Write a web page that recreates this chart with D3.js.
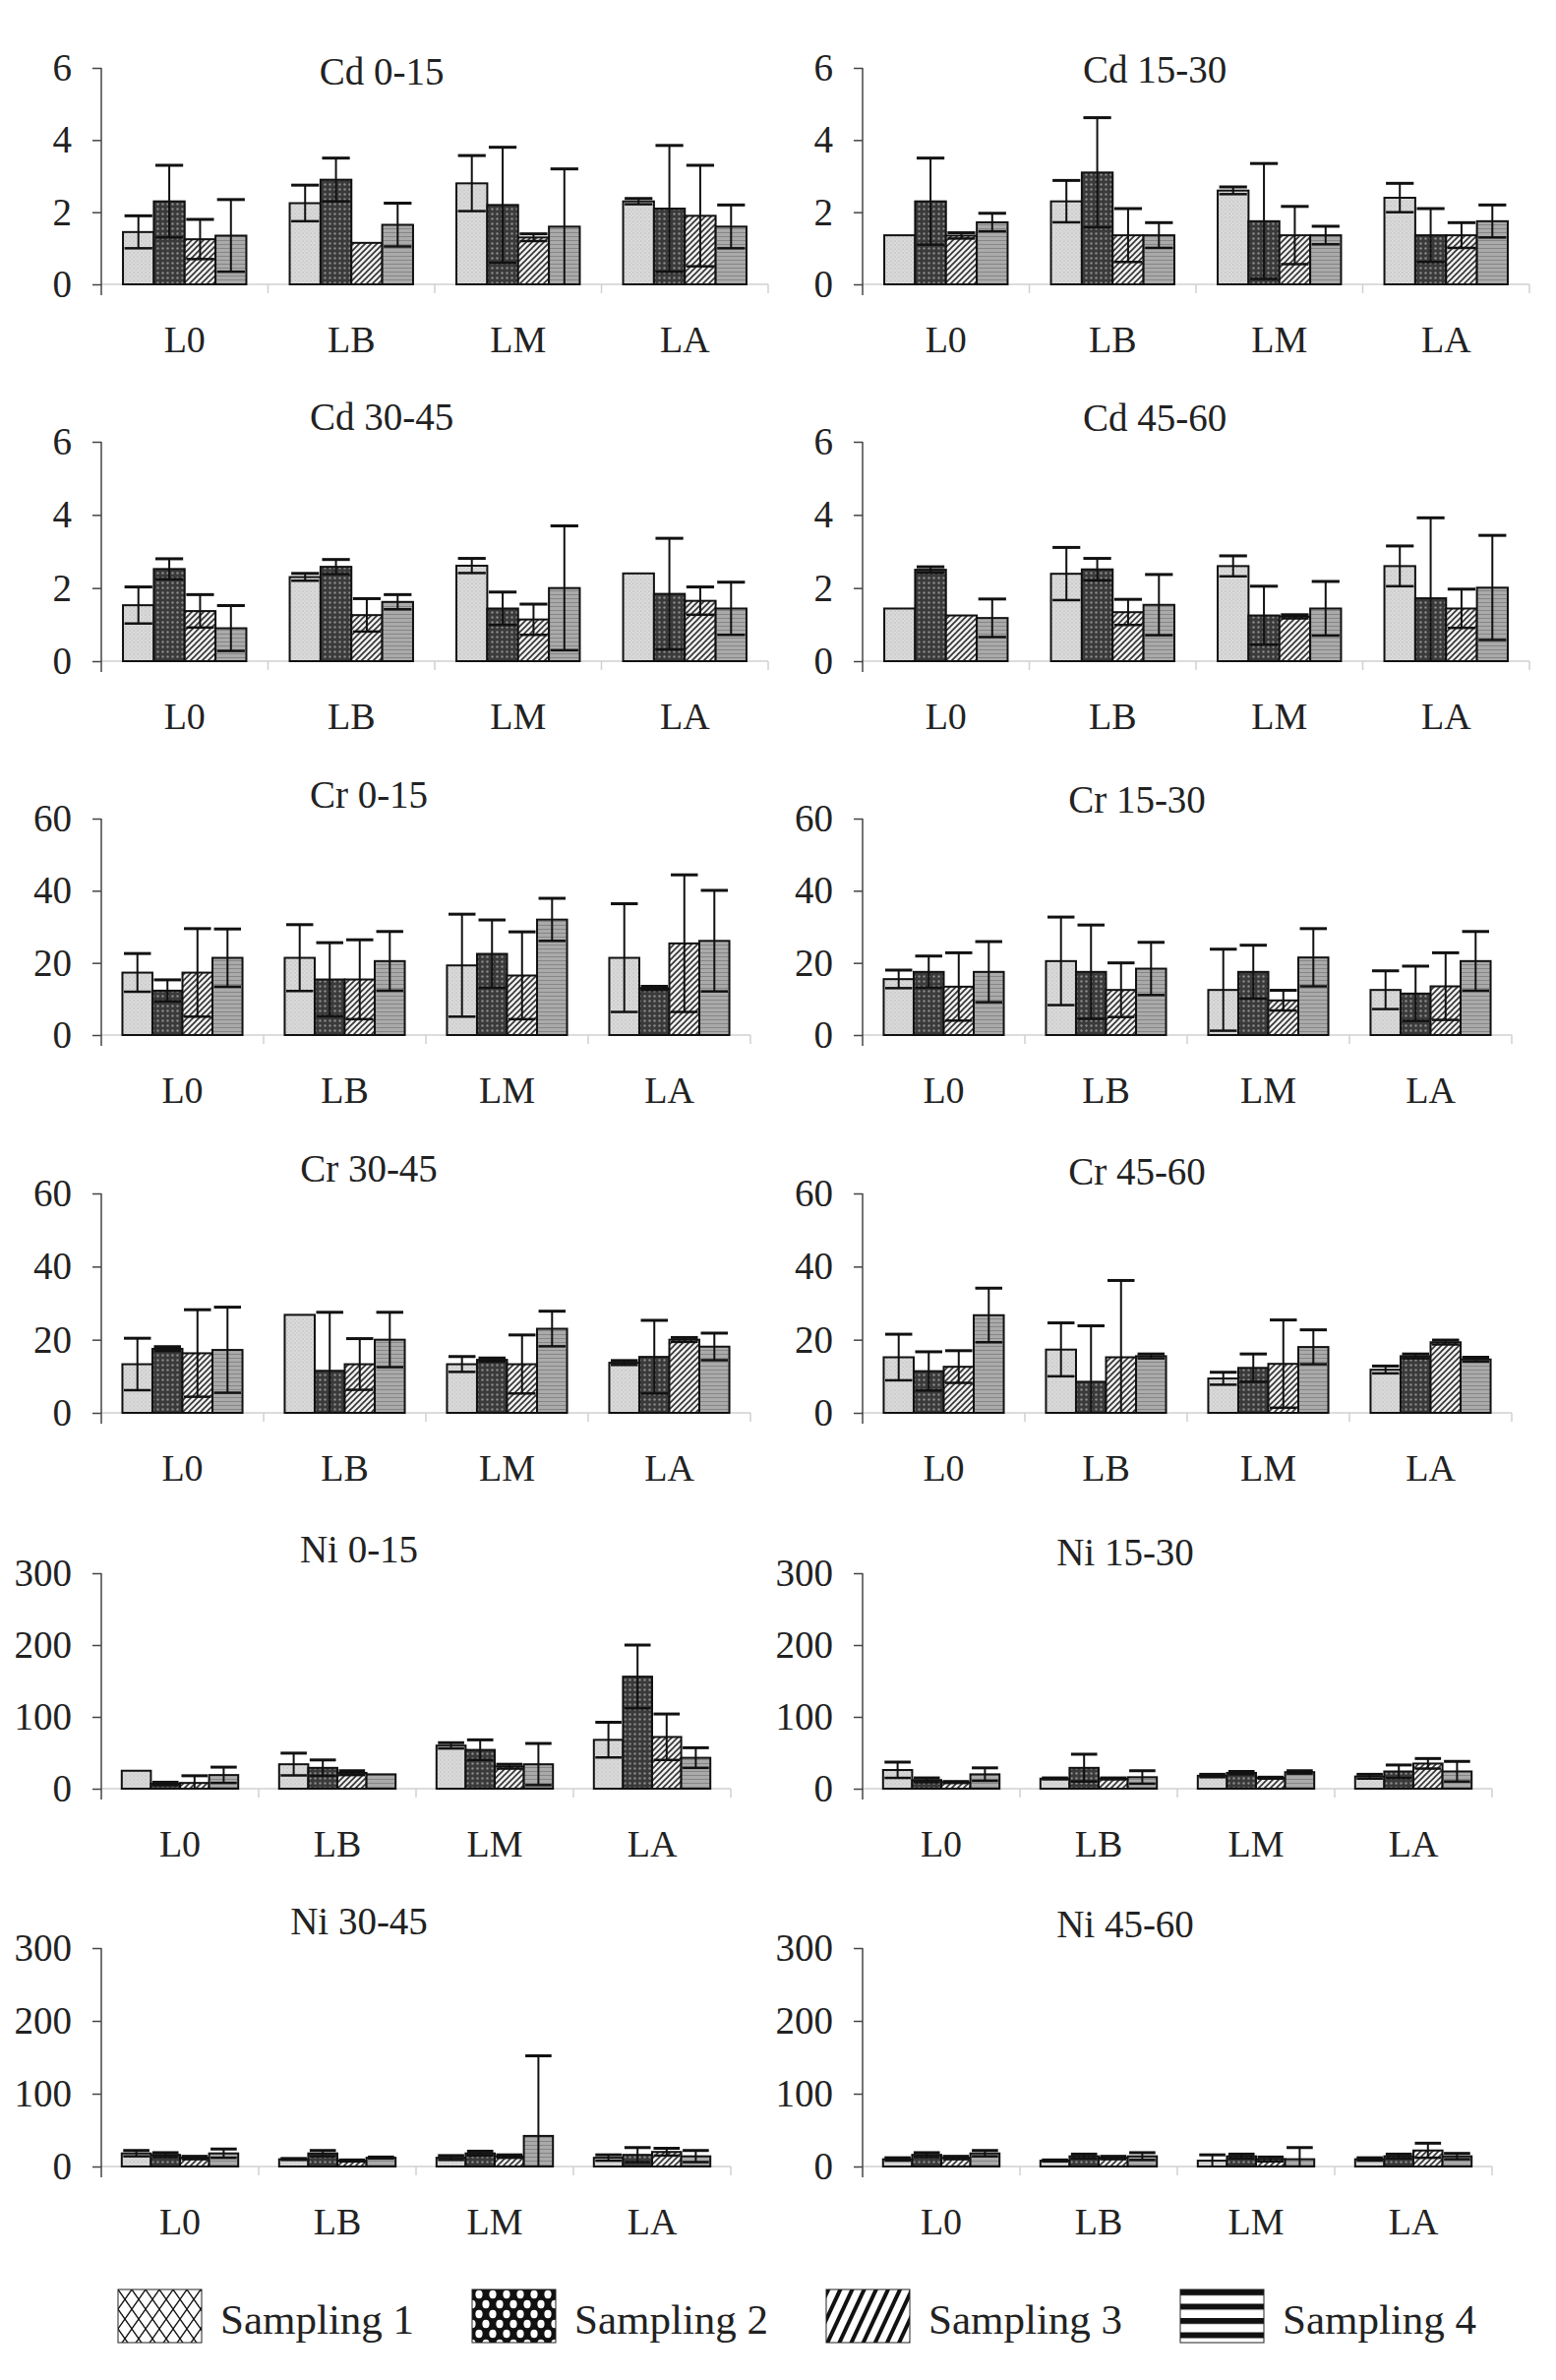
<!DOCTYPE html>
<html>
<head>
<meta charset="utf-8">
<script src="https://cdn.jsdelivr.net/npm/d3@7"></script>
<style>
  html, body { margin: 0; padding: 0; background: #fff; }
  svg { display: block; }
  text { font-family: "Liberation Serif", "DejaVu Serif", serif; fill: #222; }
</style>
</head>
<body>
<script>
// categorias e series
var sites = ["L0", "LB", "LM", "LA"];
var samplings = ["Sampling 1", "Sampling 2", "Sampling 3", "Sampling 4"];

var cdTicks = [0, 2, 4, 6];
var crTicks = [0, 20, 40, 60];
var niTicks = [0, 100, 200, 300];

// linhas = local (L0, LB, LM, LA), colunas = amostragem 1..4
var cd_0_15_mean = [[1.45, 2.3, 1.25, 1.35], [2.25, 2.9, 1.15, 1.65], [2.8, 2.2, 1.3, 1.6], [2.3, 2.1, 1.9, 1.6]];
var cd_0_15_sd = [[0.45, 1.0, 0.55, 1.0], [0.5, 0.6, 0, 0.6], [0.77, 1.6, 0.1, 1.6], [0.08, 1.75, 1.4, 0.6]];

var cd_15_30_mean = [[1.36, 2.3, 1.35, 1.72], [2.3, 3.1, 1.36, 1.36], [2.6, 1.75, 1.36, 1.36], [2.4, 1.36, 1.36, 1.75]];
var cd_15_30_sd = [[0, 1.2, 0.08, 0.25], [0.58, 1.52, 0.74, 0.35], [0.1, 1.6, 0.8, 0.25], [0.4, 0.74, 0.35, 0.45]];

var cd_30_45_mean = [[1.53, 2.52, 1.37, 0.9], [2.3, 2.58, 1.26, 1.62], [2.61, 1.44, 1.14, 2.0], [2.4, 1.84, 1.65, 1.44]];
var cd_30_45_sd = [[0.5, 0.28, 0.45, 0.62], [0.1, 0.2, 0.45, 0.2], [0.2, 0.45, 0.42, 1.7], [0, 1.52, 0.38, 0.72]];

var cd_45_60_mean = [[1.44, 2.5, 1.25, 1.18], [2.39, 2.51, 1.34, 1.54], [2.6, 1.25, 1.22, 1.44], [2.6, 1.72, 1.44, 2.01]];
var cd_45_60_sd = [[0, 0.08, 0, 0.52], [0.72, 0.3, 0.35, 0.83], [0.28, 0.8, 0.05, 0.74], [0.55, 2.2, 0.53, 1.43]];

var cr_0_15_mean = [[17.3, 12.3, 17.3, 21.4], [21.4, 15.4, 15.4, 20.5], [19.3, 22.5, 16.5, 32], [21.4, 13, 25.4, 26.1]];
var cr_0_15_sd = [[5.3, 3, 12.2, 8], [9.2, 10.2, 11, 8.2], [14.2, 9.4, 12.1, 5.9], [15, 0.5, 19, 14]];

var cr_15_30_mean = [[15.5, 17.5, 13.4, 17.5], [20.5, 17.5, 12.5, 18.4], [12.5, 17.5, 9.6, 21.5], [12.5, 11.5, 13.5, 20.5]];
var cr_15_30_sd = [[2.5, 4.4, 9.4, 8.4], [12.2, 13, 7.5, 7.3], [11.3, 7.4, 2.8, 8], [5.3, 7.6, 9.3, 8.2]];

var cr_30_45_mean = [[13.3, 17.5, 16.3, 17.2], [26.8, 11.5, 13.3, 20], [13.3, 14.5, 13.3, 23], [13.7, 15.3, 20, 18.1]];
var cr_30_45_sd = [[7.1, 0.6, 11.9, 11.7], [0, 16, 7, 7.5], [2.1, 0.5, 8, 4.8], [0.6, 10, 0.6, 3.7]];

var cr_45_60_mean = [[15.2, 11.4, 12.6, 26.7], [17.3, 8.5, 15.2, 15.5], [9.4, 12.3, 13.4, 18], [11.8, 15.5, 19.3, 14.6]];
var cr_45_60_sd = [[6.3, 5.3, 4.4, 7.4], [7.3, 15.3, 21, 0.6], [1.7, 3.8, 12, 4.7], [1.0, 0.6, 0.6, 0.6]];

var ni_0_15_mean = [[25, 7, 8, 19], [34, 29, 22, 20], [60, 54, 31, 34], [68, 156, 72, 43]];
var ni_0_15_sd = [[0, 2, 10, 11], [15.5, 11, 3, 0], [4, 14, 3, 29], [24.5, 44, 32, 14]];

var ni_15_30_mean = [[26, 12, 9, 20], [14, 29, 14, 16], [18, 22, 15, 23], [17, 24, 35, 24]];
var ni_15_30_sd = [[11, 3, 1, 9], [1, 19, 1, 9], [2, 2, 1, 2], [3, 9, 7, 14]];

var ni_30_45_mean = [[18, 16, 12, 18], [10, 18, 8, 12], [12, 18, 14, 42], [12, 16, 20, 14]];
var ni_30_45_sd = [[4, 3, 2, 6], [1, 4, 1, 1], [3, 3, 2, 110], [4, 10, 5, 8]];

var ni_45_60_mean = [[10, 16, 12, 18], [8, 14, 12, 14], [8, 14, 10, 10], [10, 14, 22, 14]];
var ni_45_60_sd = [[2, 3, 2, 4], [1, 3, 2, 5], [8, 3, 3, 16], [2, 3, 10, 4]];

var panels = [
	{ title: "Cd 0-15", el: "cd", mean: cd_0_15_mean, sd: cd_0_15_sd, ticks: cdTicks },
	{ title: "Cd 15-30", el: "cd", mean: cd_15_30_mean, sd: cd_15_30_sd, ticks: cdTicks },
	{ title: "Cd 30-45", el: "cd", mean: cd_30_45_mean, sd: cd_30_45_sd, ticks: cdTicks },
	{ title: "Cd 45-60", el: "cd", mean: cd_45_60_mean, sd: cd_45_60_sd, ticks: cdTicks },
	{ title: "Cr 0-15", el: "cr", mean: cr_0_15_mean, sd: cr_0_15_sd, ticks: crTicks },
	{ title: "Cr 15-30", el: "cr", mean: cr_15_30_mean, sd: cr_15_30_sd, ticks: crTicks },
	{ title: "Cr 30-45", el: "cr", mean: cr_30_45_mean, sd: cr_30_45_sd, ticks: crTicks },
	{ title: "Cr 45-60", el: "cr", mean: cr_45_60_mean, sd: cr_45_60_sd, ticks: crTicks },
	{ title: "Ni 0-15", el: "ni", mean: ni_0_15_mean, sd: ni_0_15_sd, ticks: niTicks },
	{ title: "Ni 15-30", el: "ni", mean: ni_15_30_mean, sd: ni_15_30_sd, ticks: niTicks },
	{ title: "Ni 30-45", el: "ni", mean: ni_30_45_mean, sd: ni_30_45_sd, ticks: niTicks },
	{ title: "Ni 45-60", el: "ni", mean: ni_45_60_mean, sd: ni_45_60_sd, ticks: niTicks }
];

//Layout (px)
var axisX = [103, 877];
var rows = [
	{ top: 69, zero: 289, title: [72, 70] },
	{ top: 449, zero: 672, title: [423, 424] },
	{ top: 832, zero: 1052, title: [807, 812] },
	{ top: 1213, zero: 1436, title: [1187, 1190] },
	{ top: 1599, zero: 1818, title: [1574, 1577] },
	{ top: 1980, zero: 2202, title: [1952, 1955] }
];
var plotW = { cd: 678, cr: 660, ni: 640 };
var titleX = { cd: [285, 297], cr: [272, 279], ni: [262, 267] };

var svg = d3.select("body").append("svg")
	.attr("width", 1582)
	.attr("height", 2419);
svg.append("rect").attr("width", 1582).attr("height", 2419).attr("fill", "#fff");

//Padrões
var defs = svg.append("defs");
function pattern(id, w, h, bg) {
	var p = defs.append("pattern")
		.attr("id", id)
		.attr("patternUnits", "userSpaceOnUse")
		.attr("width", w)
		.attr("height", h);
	p.append("rect").attr("width", w).attr("height", h).attr("fill", bg);
	return p;
}
var b1 = pattern("bar1", 4, 4, "#dadada");
b1.append("circle").attr("cx", 1).attr("cy", 1).attr("r", 0.7).attr("fill", "#b8b8b8");
b1.append("circle").attr("cx", 3).attr("cy", 3).attr("r", 0.7).attr("fill", "#c4c4c4");
var b2 = pattern("bar2", 5, 5, "#3a3a3a");
b2.append("circle").attr("cx", 2.5).attr("cy", 2.5).attr("r", 1.2).attr("fill", "#8a8a8a");
var b3 = pattern("bar3", 6, 6, "#f0f0f0");
b3.append("path").attr("d", "M0,6L6,0M-1,1L1,-1M5,7L7,5").attr("stroke", "#333").attr("stroke-width", 1.6);
var b4 = pattern("bar4", 4, 4, "#aaaaaa");
b4.append("line").attr("x1", 0).attr("x2", 4).attr("y1", 0.5).attr("y2", 0.5).attr("stroke", "#868686").attr("stroke-width", 1);

var l1 = pattern("leg1", 14, 20, "#fff");
l1.append("path").attr("d", "M0,0L14,20M14,0L0,20").attr("stroke", "#111").attr("stroke-width", 1.3);
var l2 = pattern("leg2", 14, 20, "#111");
l2.append("ellipse").attr("cx", 7).attr("cy", 5).attr("rx", 3.6).attr("ry", 4.2).attr("fill", "#fff");
l2.append("ellipse").attr("cx", 0).attr("cy", 15).attr("rx", 3.6).attr("ry", 4.2).attr("fill", "#fff");
l2.append("ellipse").attr("cx", 14).attr("cy", 15).attr("rx", 3.6).attr("ry", 4.2).attr("fill", "#fff");
var l3 = pattern("leg3", 11, 11, "#fff").attr("patternTransform", "rotate(25)");
l3.append("rect").attr("x", 0).attr("width", 4).attr("height", 11).attr("fill", "#111");
var l4 = pattern("leg4", 10, 14.5, "#fff");
l4.append("rect").attr("y", 0).attr("width", 10).attr("height", 6).attr("fill", "#111");

var barFill = ["url(#bar1)", "url(#bar2)", "url(#bar3)", "url(#bar4)"];
var legFill = ["url(#leg1)", "url(#leg2)", "url(#leg3)", "url(#leg4)"];

//Gráficos
panels.forEach(function(p, i) {
	var col = i % 2;
	var r = rows[Math.floor(i / 2)];
	var w = plotW[p.el];
	var g = svg.append("g").attr("transform", "translate(" + axisX[col] + ",0)");

	var y = d3.scaleLinear()
		.domain([0, p.ticks[p.ticks.length - 1]])
		.range([r.zero, r.top]);
	var x = d3.scaleBand()
		.domain(sites)
		.range([0, w])
		.paddingInner(0.26)
		.paddingOuter(0.13);
	var xs = d3.scaleBand()
		.domain(d3.range(samplings.length))
		.range([0, x.bandwidth()]);

	//eixo x
	g.append("line")
		.attr("x1", 0).attr("x2", w)
		.attr("y1", r.zero).attr("y2", r.zero)
		.attr("stroke", "#d0d0d0").attr("stroke-width", 1.5);
	g.selectAll(".bound")
		.data(sites)
		.enter()
		.append("line")
		.attr("x1", function(d) { return x(d) - x.step() * 0.13 + x.step(); })
		.attr("x2", function(d) { return x(d) - x.step() * 0.13 + x.step(); })
		.attr("y1", r.zero).attr("y2", r.zero + 9)
		.attr("stroke", "#d0d0d0").attr("stroke-width", 1.5);
	var ax = g.append("g")
		.attr("transform", "translate(0," + r.zero + ")")
		.call(d3.axisBottom(x).tickSize(0).tickPadding(42));
	ax.select(".domain").remove();
	ax.selectAll("text").attr("font-size", 38).attr("fill", "#222");

	//eixo y
	var ay = g.append("g")
		.call(d3.axisLeft(y).tickValues(p.ticks).tickSize(9).tickPadding(21).tickFormat(d3.format("d")));
	ay.select(".domain").remove();
	ay.selectAll("line").attr("stroke", "#444").attr("stroke-width", 1.5);
	ay.selectAll("text").attr("font-size", 39).attr("fill", "#222");
	g.append("line")
		.attr("x1", 0).attr("x2", 0)
		.attr("y1", r.top).attr("y2", r.zero + 11)
		.attr("stroke", "#444").attr("stroke-width", 1.5);

	//título
	g.append("text")
		.attr("x", titleX[p.el][col])
		.attr("y", r.title[col])
		.attr("dy", "0.35em")
		.attr("text-anchor", "middle")
		.attr("font-size", 39)
		.text(p.title);

	//barras
	var cells = [];
	sites.forEach(function(s, si) {
		samplings.forEach(function(sm, k) {
			cells.push({ site: s, k: k, mean: p.mean[si][k], sd: p.sd[si][k] });
		});
	});
	g.selectAll(".bar")
		.data(cells)
		.enter()
		.append("rect")
		.attr("class", "bar")
		.attr("x", function(d) { return x(d.site) + xs(d.k); })
		.attr("y", function(d) { return y(d.mean); })
		.attr("width", xs.bandwidth())
		.attr("height", function(d) { return y(0) - y(d.mean); })
		.attr("fill", function(d) { return barFill[d.k]; })
		.attr("stroke", "#111")
		.attr("stroke-width", 2);

	//barras de erro
	var eb = g.selectAll(".err")
		.data(cells.filter(function(d) { return d.sd > 0; }))
		.enter()
		.append("g")
		.attr("class", "err");
	var cx = function(d) { return x(d.site) + xs(d.k) + xs.bandwidth() / 2; };
	var half = xs.bandwidth() * 0.45;
	eb.append("line")
		.attr("x1", cx).attr("x2", cx)
		.attr("y1", function(d) { return y(Math.max(0, d.mean - d.sd)); })
		.attr("y2", function(d) { return y(d.mean + d.sd); })
		.attr("stroke", "#111").attr("stroke-width", 2);
	eb.append("line")
		.attr("x1", function(d) { return cx(d) - half; })
		.attr("x2", function(d) { return cx(d) + half; })
		.attr("y1", function(d) { return y(d.mean + d.sd); })
		.attr("y2", function(d) { return y(d.mean + d.sd); })
		.attr("stroke", "#111").attr("stroke-width", 3);
	eb.filter(function(d) { return d.mean - d.sd > 0.05 * p.ticks[p.ticks.length - 1] / 6; })
		.append("line")
		.attr("x1", function(d) { return cx(d) - half; })
		.attr("x2", function(d) { return cx(d) + half; })
		.attr("y1", function(d) { return y(d.mean - d.sd); })
		.attr("y2", function(d) { return y(d.mean - d.sd); })
		.attr("stroke", "#111").attr("stroke-width", 2.5);
});

//Legenda
var lx = d3.scaleLinear().domain([0, 1]).range([120, 480]);
var leg = svg.selectAll(".leg")
	.data(samplings)
	.enter()
	.append("g")
	.attr("class", "leg")
	.attr("transform", function(d, i) { return "translate(" + lx(i) + ",2327)"; });
leg.append("rect")
	.attr("width", 85)
	.attr("height", 54)
	.attr("fill", function(d, i) { return legFill[i]; })
	.attr("stroke", "#222")
	.attr("stroke-width", 1);
leg.append("text")
	.attr("x", 104)
	.attr("y", 30)
	.attr("dy", "0.35em")
	.attr("font-size", 43)
	.text(function(d) { return d; });
</script>
</body>
</html>
